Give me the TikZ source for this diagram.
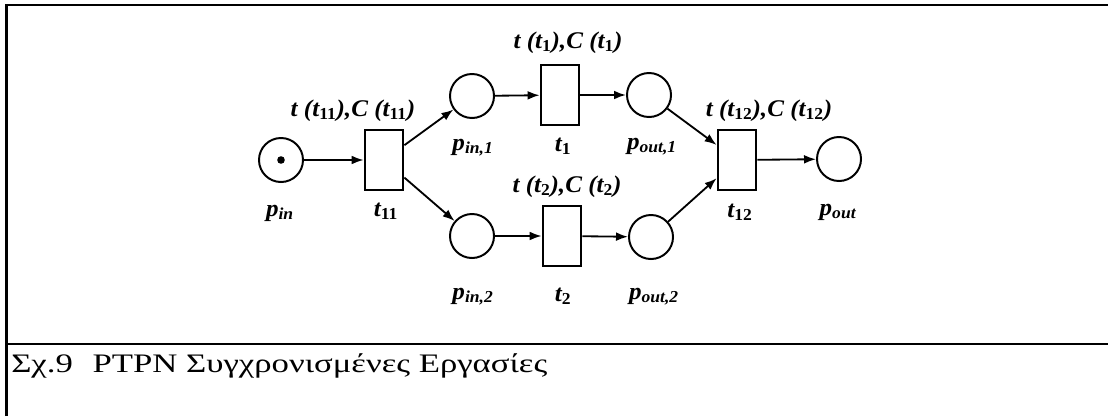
\documentclass[tikz,border=0pt]{standalone}
\usepackage{fontspec}
\setmainfont{Liberation Serif}
\newfontfamily\capfont[FakeStretch=1.3]{Liberation Serif}
\newfontfamily\pnfont[FakeStretch=1.05]{Liberation Serif}
\usetikzlibrary{arrows.meta, positioning}

\newcommand{\pnsub}[1]{\textsubscript{#1}}

\begin{document}
\begin{tikzpicture}[
    x=0.025cm, y=-0.025cm,
    place/.style={draw, circle, line width=1.4pt, minimum size=1.1cm, inner sep=0pt},
    trans/.style={draw, rectangle, line width=1.4pt, minimum width=0.97cm, minimum height=1.5cm, inner sep=0pt},
    token/.style={circle, fill, minimum size=1.9mm, inner sep=0pt},
    arc/.style={-{Latex[length=3mm, width=2.2mm]}, line width=1.3pt},
    lbl/.style={anchor=base, inner sep=0pt, font=\pnfont\fontsize{17}{20}\selectfont\bfseries\itshape},
    frame/.style={line width=2.1pt},
]
    \useasboundingbox (0,0) rectangle (1108,416);

    % Rahmen und Beschriftung
    \draw[frame] (6.5,416) -- (6.5,5) -- (1108,5);
    \draw[frame] (6.5,344) -- (1108,344);
    \node[anchor=base west, inner sep=0pt, font=\capfont\fontsize{19}{22}\selectfont] (cap) at (11,372)
        {Σχ.9\hspace{14pt}PTPN Συγχρονισμένες Εργασίες};

    % Stellen und Transitionen
    \node[place] (pin) at (281,160) {};
    \node[token] (tok) at (pin) {};
    \node[trans] (t11) at (384,160) {};
    \node[place] (pin1) at (472,96) {};
    \node[place] (pin2) at (472,236) {};
    \node[trans] (t1) at (560,95) {};
    \node[trans] (t2) at (562,236) {};
    \node[place] (pout1) at (649,95) {};
    \node[place] (pout2) at (651,237) {};
    \node[trans] (t12) at (737,160) {};
    \node[place] (pout) at (839,159) {};

    % Bezeichnungen
    \node[lbl] (lpin) at (280,216) {p\pnsub{in}};
    \node[lbl] (lt11) at (386,216) {t\pnsub{\upshape 11}};
    \node[lbl] (lpin1) at (473,150) {p\pnsub{in,1}};
    \node[lbl] (lpin2) at (473,299) {p\pnsub{in,2}};
    \node[lbl] (lt1) at (563,151) {t\pnsub{\upshape 1}};
    \node[lbl] (lt2) at (563,301) {t\pnsub{\upshape 2}};
    \node[lbl] (lpout1) at (652,149) {p\pnsub{out,1}};
    \node[lbl] (lpout2) at (654,299) {p\pnsub{out,2}};
    \node[lbl] (lt12) at (740,217) {t\pnsub{\upshape 12}};
    \node[lbl] (lpout) at (838,215) {p\pnsub{out}};

    % Zeiten und Kosten
    \node[lbl] (ct11) at (353,116) {t (t\pnsub{\upshape 11}),C (t\pnsub{\upshape 11})};
    \node[lbl] (ct1) at (568,48) {t (t\pnsub{\upshape 1}),C (t\pnsub{\upshape 1})};
    \node[lbl] (ct2) at (567,192) {t (t\pnsub{\upshape 2}),C (t\pnsub{\upshape 2})};
    \node[lbl] (ct12) at (769,116) {t (t\pnsub{\upshape 12}),C (t\pnsub{\upshape 12})};

    % Kanten
    \draw[arc] (pin) -- (t11);
    \draw[arc] (t11) -- (pin1);
    \draw[arc] (t11) -- (pin2);
    \draw[arc] (pin1) -- (t1);
    \draw[arc] (pin2) -- (t2);
    \draw[arc] (t1) -- (pout1);
    \draw[arc] (t2) -- (pout2);
    \draw[arc] (pout1) -- (t12);
    \draw[arc] (pout2) -- (t12);
    \draw[arc] (t12) -- (pout);
\end{tikzpicture}
\end{document}
